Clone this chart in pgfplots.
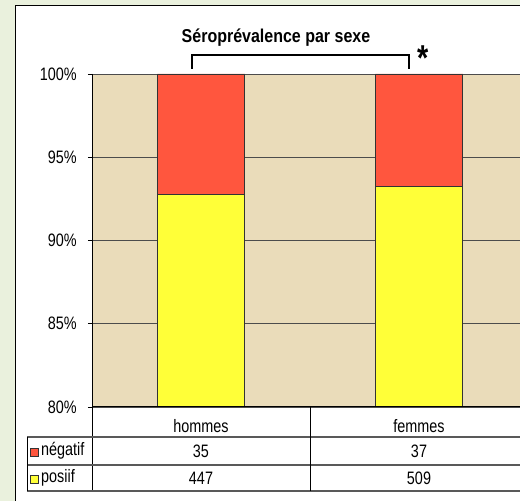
\documentclass[border=0pt]{standalone}
\usepackage{fontspec}
\setmainfont{Liberation Sans}[FakeStretch=0.8]
\newfontfamily\titlefont{Liberation Sans}[FakeStretch=0.86]
\usepackage{pgfplots}
\usepackage{pgfplotstable}
\pgfplotsset{compat=1.18}
\definecolor{outergreen}{RGB}{234,241,221}
\definecolor{paper}{RGB}{234,220,186}
\definecolor{negred}{RGB}{255,86,62}
\definecolor{posyel}{RGB}{255,255,56}
\pgfplotstableread{
x pos neg
0 92.74 7.26
1 93.22 6.78
}\data
\newcommand{\tf}{\fontsize{18}{21}\selectfont}
\begin{document}
\begin{tikzpicture}[x=1pt,y=1pt]
\useasboundingbox (0,0) rectangle (520,501);
\clip (0,0) rectangle (520,501);
\fill[outergreen] (0,0) rectangle (520,501);
\filldraw[fill=white, draw=black, line width=1pt] (15,495) rectangle (560,-20);
\begin{axis}[
  at={(92pt,94pt)}, anchor=south west,
  scale only axis, width=436pt, height=333pt,
  xmin=-0.5, xmax=1.5, ymin=80, ymax=100,
  ybar stacked, bar width=87.5pt,
  axis background/.style={fill=paper},
  axis line style={draw=none},
  xtick={0,1}, xticklabels={hommes,femmes},
  xtick style={draw=none},
  xticklabel style={anchor=center, yshift=-15pt, font=\tf},
  ytick={80,85,90,95,100},
  yticklabel={\pgfmathprintnumber[assume math mode=true]{\tick}\%},
  yticklabel style={font=\tf, inner sep=0pt, xshift=-11pt},
  tick align=outside, major tick length=4pt,
  ytick style={draw=black, line width=0.8pt},
  ymajorgrids, grid style={black!70, line width=0.8pt},
  clip=true,
]
\addplot[fill=posyel, draw=black!80, line width=0.8pt] table[x=x, y=pos] {\data};
\addplot[fill=negred, draw=black!80, line width=0.8pt] table[x=x, y=neg] {\data};
\end{axis}
% axis / table lines
\draw[black, line width=1pt] (92,427) -- (92,10);
\draw[black, line width=1pt] (92,94) -- (540,94);
\foreach \yy in {64,36,10} \draw[black!65, line width=1.3pt] (27,\yy) -- (540,\yy);
\draw[black, line width=1pt] (27,64) -- (27,10);
\draw[black, line width=1pt] (310,94) -- (310,10);
% table contents
\node[font=\tf] at (201,50) {35};
\node[font=\tf] at (419,50) {37};
\node[font=\tf] at (201,23) {447};
\node[font=\tf] at (419,23) {509};
\filldraw[fill=negred, draw=black!80, line width=0.6pt] (30,45) rectangle (38,53);
\filldraw[fill=posyel, draw=black!80, line width=0.6pt] (30,18) rectangle (38,26);
\node[font=\tf, anchor=west, inner sep=0pt] at (41,50) {négatif};
\node[font=\tf, anchor=west, inner sep=0pt] at (41,23) {posiif};
% title and bracket
\node[anchor=base, inner sep=0pt] at (276,458) {\titlefont\bfseries\fontsize{18.6}{21}\selectfont Séroprévalence par sexe};
\draw[black, line width=1.5pt] (192,432) -- (192,446) -- (409,446) -- (409,432);
\node[inner sep=0pt] at (423,443) {\fontsize{36}{36}\selectfont\bfseries *};
\end{tikzpicture}
\end{document}
